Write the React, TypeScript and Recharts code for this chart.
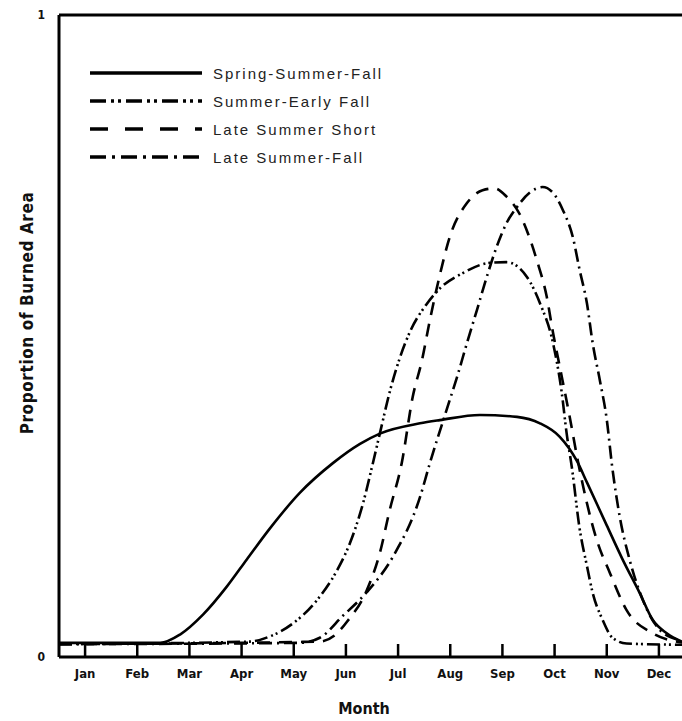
import React from 'react';
import {
  LineChart,
  Line,
  XAxis,
  YAxis,
  ReferenceLine
} from 'recharts';

const FONT = "'Liberation Sans Narrow', 'DejaVu Sans Condensed', 'Liberation Sans', sans-serif";
const LEGEND_FONT = "'Liberation Sans', 'DejaVu Sans', sans-serif";

// month index 1..12 sits at the tick, the frame runs half a month past each end
const monthTicks = [1, 2, 3, 4, 5, 6, 7, 8, 9, 10, 11, 12];
const monthNames = ['Jan', 'Feb', 'Mar', 'Apr', 'May', 'Jun', 'Jul', 'Aug', 'Sep', 'Oct', 'Nov', 'Dec'];

const springSummerFall = [
  { m: 0.5, v: 0.022 }, { m: 2.44, v: 0.022 }, { m: 2.82, v: 0.035 }, { m: 3.26, v: 0.066 },
  { m: 3.72, v: 0.11 }, { m: 4.1, v: 0.152 }, { m: 4.54, v: 0.2 }, { m: 5.12, v: 0.256 },
  { m: 5.75, v: 0.302 }, { m: 6.27, v: 0.332 }, { m: 6.65, v: 0.348 }, { m: 7.42, v: 0.364 },
  { m: 7.8, v: 0.369 }, { m: 8.57, v: 0.377 }, { m: 9.28, v: 0.374 }, { m: 9.72, v: 0.364 },
  { m: 10.1, v: 0.343 }, { m: 10.43, v: 0.305 }, { m: 10.62, v: 0.272 }, { m: 11.0, v: 0.205 },
  { m: 11.31, v: 0.151 }, { m: 11.63, v: 0.1 }, { m: 11.88, v: 0.058 }, { m: 12.15, v: 0.037 },
  { m: 12.5, v: 0.022 }
];

const summerEarlyFall = [
  { m: 0.5, v: 0.02 }, { m: 4.16, v: 0.024 }, { m: 4.54, v: 0.032 }, { m: 4.98, v: 0.052 },
  { m: 5.44, v: 0.088 }, { m: 5.83, v: 0.135 }, { m: 6.08, v: 0.178 }, { m: 6.33, v: 0.24 },
  { m: 6.52, v: 0.303 }, { m: 6.65, v: 0.348 }, { m: 6.84, v: 0.413 }, { m: 7.03, v: 0.465 },
  { m: 7.23, v: 0.507 }, { m: 7.55, v: 0.55 }, { m: 7.8, v: 0.574 }, { m: 8.24, v: 0.598 },
  { m: 8.76, v: 0.614 }, { m: 9.08, v: 0.615 }, { m: 9.47, v: 0.592 }, { m: 9.72, v: 0.551 },
  { m: 9.97, v: 0.489 }, { m: 10.14, v: 0.41 }, { m: 10.23, v: 0.349 }, { m: 10.33, v: 0.296 },
  { m: 10.48, v: 0.2 }, { m: 10.62, v: 0.142 }, { m: 10.73, v: 0.1 }, { m: 10.92, v: 0.058 },
  { m: 11.11, v: 0.03 }, { m: 11.38, v: 0.021 }, { m: 12.5, v: 0.019 }
];

const lateSummerShort = [
  { m: 0.5, v: 0.02 }, { m: 5.5, v: 0.024 }, { m: 5.79, v: 0.034 }, { m: 6.02, v: 0.055 },
  { m: 6.4, v: 0.104 }, { m: 6.65, v: 0.162 }, { m: 6.84, v: 0.229 }, { m: 7.07, v: 0.302 },
  { m: 7.28, v: 0.405 }, { m: 7.46, v: 0.463 }, { m: 7.61, v: 0.525 }, { m: 7.8, v: 0.595 },
  { m: 7.99, v: 0.654 }, { m: 8.32, v: 0.707 }, { m: 8.62, v: 0.727 }, { m: 8.85, v: 0.73 },
  { m: 9.08, v: 0.717 }, { m: 9.33, v: 0.69 }, { m: 9.66, v: 0.618 }, { m: 9.85, v: 0.561 },
  { m: 9.97, v: 0.505 }, { m: 10.1, v: 0.452 }, { m: 10.29, v: 0.374 }, { m: 10.43, v: 0.312 },
  { m: 10.81, v: 0.182 }, { m: 11.06, v: 0.131 }, { m: 11.38, v: 0.073 }, { m: 11.88, v: 0.037 },
  { m: 12.5, v: 0.022 }
];

const lateSummerFall = [
  { m: 0.5, v: 0.02 }, { m: 5.12, v: 0.022 }, { m: 5.5, v: 0.03 }, { m: 5.94, v: 0.064 },
  { m: 6.4, v: 0.101 }, { m: 6.9, v: 0.156 }, { m: 7.42, v: 0.249 }, { m: 7.61, v: 0.302 },
  { m: 7.93, v: 0.385 }, { m: 8.13, v: 0.436 }, { m: 8.32, v: 0.489 }, { m: 8.51, v: 0.54 },
  { m: 8.7, v: 0.592 }, { m: 8.89, v: 0.639 }, { m: 9.08, v: 0.676 }, { m: 9.28, v: 0.701 },
  { m: 9.52, v: 0.723 }, { m: 9.77, v: 0.732 }, { m: 9.97, v: 0.723 }, { m: 10.16, v: 0.696 },
  { m: 10.35, v: 0.654 }, { m: 10.48, v: 0.603 }, { m: 10.62, v: 0.551 }, { m: 10.73, v: 0.489 },
  { m: 10.87, v: 0.43 }, { m: 11.0, v: 0.37 }, { m: 11.1, v: 0.299 }, { m: 11.25, v: 0.218 },
  { m: 11.44, v: 0.151 }, { m: 11.69, v: 0.089 }, { m: 12.02, v: 0.042 }, { m: 12.4, v: 0.026 },
  { m: 12.5, v: 0.024 }
];

const seriesNames = ['Spring-Summer-Fall', 'Summer-Early Fall', 'Late Summer Short', 'Late Summer-Fall'];
const seriesData = [springSummerFall, summerEarlyFall, lateSummerShort, lateSummerFall];
const seriesDash = ['', '13 4 2 3 2 4', '13 9', '13 5 2 5'];
const keyDash = ['', '16 5 3 4 3 5', '18 17', '16 6 3 6'];

const MonthTick = (props: any) => {
  const { x, y, payload } = props;
  return (
    <g>
      <line x1={x} y1={y} x2={x} y2={y - 13} stroke="#000" strokeWidth={2.5} />
      <text
        x={x}
        y={y + 21}
        textAnchor="middle"
        fontFamily={FONT}
        fontWeight="bold"
        fontSize={13}
        fill="#111"
      >
        {monthNames[payload.value - 1]}
      </text>
    </g>
  );
};

const YTitle = (props: any) => {
  const { viewBox } = props;
  const cx = 27;
  const cy = viewBox.y + viewBox.height / 2 - 23;
  return (
    <text
      x={cx}
      y={cy}
      transform={`rotate(-90, ${cx}, ${cy})`}
      textAnchor="middle"
      dominantBaseline="central"
      fontFamily={FONT}
      fontWeight="bold"
      fontSize={17}
      letterSpacing={0.6}
      fill="#111"
    >
      Proportion of Burned Area
    </text>
  );
};

const XTitle = (props: any) => {
  const { viewBox } = props;
  const cx = viewBox.x + viewBox.width / 2 - 8;
  return (
    <text
      x={cx}
      y={viewBox.y + 57}
      textAnchor="middle"
      fontFamily={FONT}
      fontWeight="bold"
      fontSize={16}
      fill="#111"
    >
      Month
    </text>
  );
};

// series key, laid over the top-left of the plot
const KeyBox = () => (
  <div
    style={{
      position: 'absolute',
      left: 90,
      top: 59,
      fontFamily: LEGEND_FONT,
      fontSize: 15,
      color: '#222'
    }}
  >
    {seriesNames.map((name, i) => (
      <div key={name} style={{ display: 'flex', alignItems: 'center', height: 28 }}>
        <svg width={112} height={10} style={{ marginRight: 11 }}>
          <line
            x1={0}
            y1={5}
            x2={112}
            y2={5}
            stroke="#000"
            strokeWidth={3.5}
            strokeDasharray={keyDash[i] || undefined}
          />
        </svg>
        <span style={{ letterSpacing: 2 }}>{name}</span>
      </div>
    ))}
  </div>
);

export default function App() {
  return (
    <div
      style={{
        position: 'absolute',
        left: 0,
        top: 0,
        width: 682,
        height: 721,
        overflow: 'hidden',
        background: '#fff'
      }}
    >
      <LineChart width={700} height={721} margin={{ top: 15, right: 15, bottom: 0, left: 0 }}>
        <XAxis
          type="number"
          dataKey="m"
          domain={[0.5, 12.5]}
          ticks={monthTicks}
          height={64}
          tickSize={0}
          tickMargin={0}
          tick={<MonthTick />}
          axisLine={{ stroke: '#000', strokeWidth: 3 }}
          tickLine={false}
          allowDuplicatedCategory={false}
          label={<XTitle />}
        />
        <YAxis
          type="number"
          domain={[0, 1]}
          ticks={[0, 1]}
          width={59}
          tickLine={false}
          tickSize={0}
          tickMargin={14}
          tick={{ fill: '#111', fontSize: 12, fontWeight: 'bold', fontFamily: FONT }}
          axisLine={{ stroke: '#000', strokeWidth: 3 }}
          label={<YTitle />}
        />
        <ReferenceLine y={1} stroke="#000" strokeWidth={3} ifOverflow="visible" />
        <ReferenceLine x={12.5} stroke="#000" strokeWidth={3} ifOverflow="visible" />
        {seriesNames.map((name, i) => (
          <Line
            key={name}
            data={seriesData[i]}
            dataKey="v"
            name={name}
            type="monotone"
            stroke="#000"
            strokeWidth={2.6}
            strokeDasharray={seriesDash[i] || undefined}
            dot={false}
            activeDot={false}
            isAnimationActive={false}
          />
        ))}
      </LineChart>
      <KeyBox />
    </div>
  );
}
